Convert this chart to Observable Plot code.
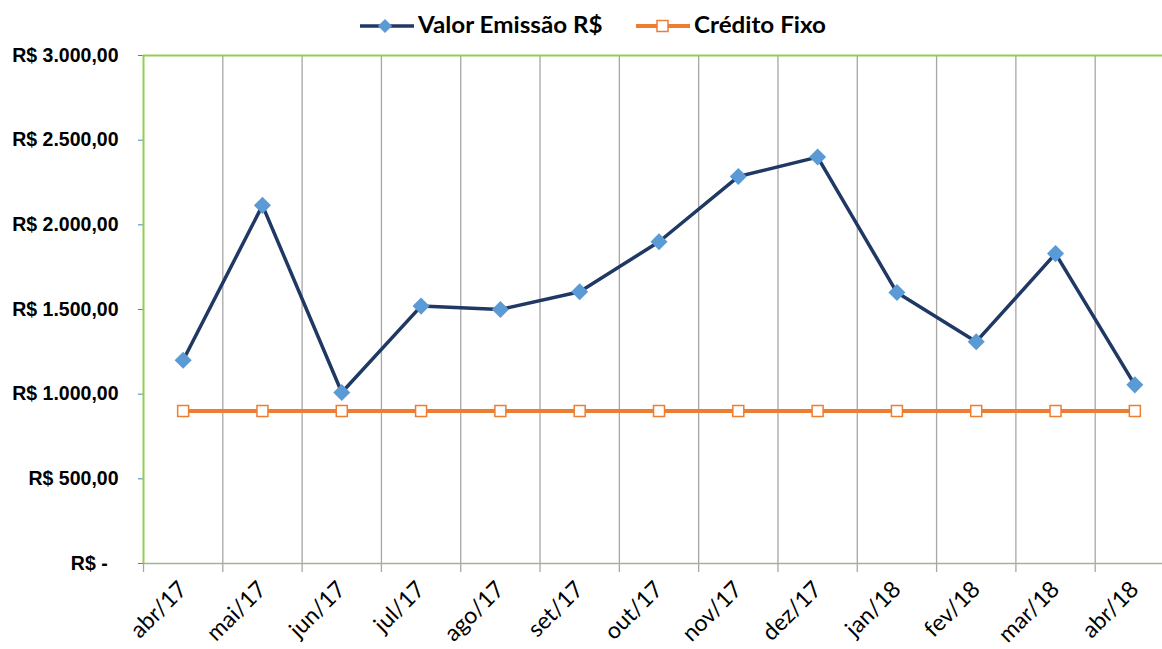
<!DOCTYPE html>
<html>
<head>
<meta charset="utf-8">
<script src="https://cdn.jsdelivr.net/npm/d3@7"></script>
<script src="https://cdn.jsdelivr.net/npm/@observablehq/plot@0.6"></script>
<style>
  html, body { margin: 0; padding: 0; background: #fff; }
  #wrap { position: relative; width: 1162px; height: 649px; overflow: hidden; }
  #legend { position: absolute; left: 0; top: 0; height: 50px; width: 1162px; z-index: 2; font-family: Lato, "Open Sans", sans-serif; font-weight: bold; font-size: 22px; color: #000; }
  .lg-sw { position: absolute; top: 15px; }
  .lg-tx { position: absolute; top: 12px; line-height: 26px; transform-origin: left center; transform: scaleX(1.1); white-space: nowrap; }
</style>
</head>
<body>
<div id="wrap">
  <div id="legend"></div>
  <div id="chart"></div>
</div>
<script>
const months = ["abr/17","mai/17","jun/17","jul/17","ago/17","set/17","out/17","nov/17","dez/17","jan/18","fev/18","mar/18","abr/18"];
const valorEmissao = [1200, 2115, 1010, 1520, 1500, 1605, 1900, 2285, 2400, 1600, 1310, 1830, 1055];
const creditoFixo = [900, 900, 900, 900, 900, 900, 900, 900, 900, 900, 900, 900, 900];
const yTicks = [0, 500, 1000, 1500, 2000, 2500, 3000];
const seriesNames = ["Valor Emissão R$", "Crédito Fixo"];

const navy = "#1F3864";
const blue = "#5B9BD5";
const orange = "#ED7D31";

// legend
const legend = document.getElementById("legend");
legend.innerHTML = `
  <svg class="lg-sw" style="left:360px" width="54" height="22">
    <line x1="0" y1="11" x2="54" y2="11" stroke="${navy}" stroke-width="3.5"/>
    <rect x="20" y="6" width="10" height="10" fill="${blue}" transform="rotate(45 25 11)"/>
  </svg>
  <div class="lg-tx" style="left:418px">${seriesNames[0]}</div>
  <svg class="lg-sw" style="left:636px" width="54" height="22">
    <line x1="0" y1="11" x2="54" y2="11" stroke="${orange}" stroke-width="4"/>
    <rect x="21" y="5.5" width="11" height="11" fill="#fff" stroke="${orange}" stroke-width="1.5"/>
  </svg>
  <div class="lg-tx" style="left:694px">${seriesNames[1]}</div>`;

const dataV = months.map((m, i) => ({i: i + 0.5, m, v: valorEmissao[i]}));
const dataC = months.map((m, i) => ({i: i + 0.5, m, v: creditoFixo[i]}));

const fmtY = d => d === 0 ? "R$ -\u00a0\u00a0" : "R$ " + d3.format(",.2f")(d).replace(/,/g, "#").replace(".", ",").replace(/#/g, ".");

const chart = Plot.plot({
  width: 1162,
  height: 649,
  marginLeft: 143,
  marginRight: 0,
  marginTop: 55,
  marginBottom: 86,
  style: { fontFamily: "Lato, sans-serif", background: "#fff", overflow: "hidden" },
  x: { domain: [0, 13], range: [143, 1174], label: null },
  y: { domain: [0, 3000], range: [563, 55], label: null },
  marks: [
    // vertical gridlines
    Plot.ruleX(d3.range(1, 14), { y1: 0, y2: 3000, stroke: "#A6A6A6", strokeWidth: 1.3 }),
    // x tick marks at category boundaries
    Plot.axisX(d3.range(0, 14), { tickSize: 9, tickFormat: () => "", stroke: "#A6A6A6", strokeWidth: 1.3, label: null }),
    // x labels
    Plot.axisX(months.map((m, i) => i + 0.5), {
      tickSize: 0, tickPadding: 22, tickRotate: -45, label: null,
      tickFormat: d => months[Math.floor(d)],
      fontSize: 23, fill: "#000", fontFamily: "Lato, sans-serif"
    }),
    // y axis
    Plot.axisY(yTicks, {
      tickSize: 5, tickPadding: 20, tickFormat: fmtY, stroke: "#4F81BD", label: null,
      fontSize: 19.5, fontWeight: "bold", fill: "#000",
      fontFamily: "'Liberation Sans', Arial, sans-serif"
    }),
    // frame lines
    Plot.ruleY([0], { stroke: "#A3B48E", strokeWidth: 1.5 }),
    Plot.ruleY([3000], { stroke: "#92D050", strokeWidth: 2 }),
    Plot.ruleX([0], { y1: 0, y2: 3000, stroke: "#92D050", strokeWidth: 2 }),
    // series
    Plot.line(dataC, { x: "i", y: "v", stroke: orange, strokeWidth: 4 }),
    Plot.dot(dataC, { x: "i", y: "v", symbol: "square", r: 6.2, fill: "#fff", stroke: orange, strokeWidth: 1.5 }),
    Plot.line(dataV, { x: "i", y: "v", stroke: navy, strokeWidth: 3.5 }),
    Plot.dot(dataV, { x: "i", y: "v", symbol: "square", r: 6.8, rotate: 45, fill: blue })
  ]
});
document.getElementById("chart").appendChild(chart);
</script>
</body>
</html>
